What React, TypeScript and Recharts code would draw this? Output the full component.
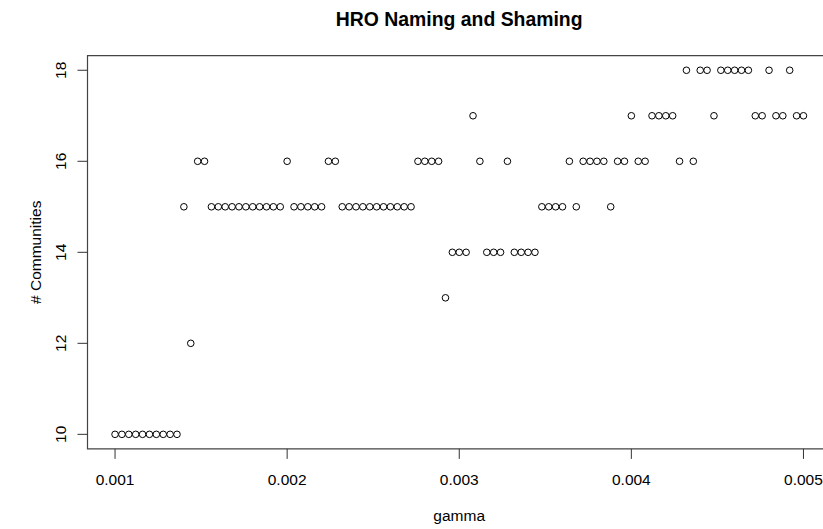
import React from "react";
import {
  ScatterChart,
  Scatter,
  XAxis,
  YAxis,
  ReferenceArea,
  Label,
  Customized,
} from "recharts";

// gamma values swept in the community detection run
const gamma = [
  0.001, 0.00104, 0.00108, 0.00112, 0.00116, 0.0012, 0.00124, 0.00128, 0.00132, 0.00136,
  0.0014, 0.00144, 0.00148, 0.00152, 0.00156, 0.0016, 0.00164, 0.00168, 0.00172, 0.00176,
  0.0018, 0.00184, 0.00188, 0.00192, 0.00196, 0.002, 0.00204, 0.00208, 0.00212, 0.00216,
  0.0022, 0.00224, 0.00228, 0.00232, 0.00236, 0.0024, 0.00244, 0.00248, 0.00252, 0.00256,
  0.0026, 0.00264, 0.00268, 0.00272, 0.00276, 0.0028, 0.00284, 0.00288, 0.00292, 0.00296,
  0.003, 0.00304, 0.00308, 0.00312, 0.00316, 0.0032, 0.00324, 0.00328, 0.00332, 0.00336,
  0.0034, 0.00344, 0.00348, 0.00352, 0.00356, 0.0036, 0.00364, 0.00368, 0.00372, 0.00376,
  0.0038, 0.00384, 0.00388, 0.00392, 0.00396, 0.004, 0.00404, 0.00408, 0.00412, 0.00416,
  0.0042, 0.00424, 0.00428, 0.00432, 0.00436, 0.0044, 0.00444, 0.00448, 0.00452, 0.00456,
  0.0046, 0.00464, 0.00468, 0.00472, 0.00476, 0.0048, 0.00484, 0.00488, 0.00492, 0.00496,
  0.005,
];

// number of communities found at each gamma
const communities = [
  10, 10, 10, 10, 10, 10, 10, 10, 10, 10,
  15, 12, 16, 16, 15, 15, 15, 15, 15, 15,
  15, 15, 15, 15, 15, 16, 15, 15, 15, 15,
  15, 16, 16, 15, 15, 15, 15, 15, 15, 15,
  15, 15, 15, 15, 16, 16, 16, 16, 13, 14,
  14, 14, 17, 16, 14, 14, 14, 16, 14, 14,
  14, 14, 15, 15, 15, 15, 16, 15, 16, 16,
  16, 16, 15, 16, 16, 17, 16, 16, 17, 17,
  17, 17, 16, 18, 16, 18, 18, 17, 18, 18,
  18, 18, 18, 17, 17, 18, 17, 17, 18, 17,
  17,
];

const xTicks = [0.001, 0.002, 0.003, 0.004, 0.005];
const yTicks = [10, 12, 14, 16, 18];

const xDomain = [0.00084, 0.00516];
const yDomain = [9.68, 18.32];

const points = gamma.map((g, i) => ({ gamma: g, communities: communities[i] }));

const FONT = "'Liberation Sans', Arial, Helvetica, sans-serif";
const PLOT_CENTER_X = 459.2;
const TEXT_SIZE = 15.5;

const OpenCircle = (props: any) => (
  <circle cx={props.cx} cy={props.cy} r={3.3} fill="none" stroke="#000" strokeWidth={1} />
);

const YTick = (props: any) => {
  const { y, payload } = props;
  return (
    <text
      transform={`translate(65.5,${y}) rotate(-90)`}
      textAnchor="middle"
      fontFamily={FONT}
      fontSize={TEXT_SIZE}
      fill="#000"
    >
      {payload.value}
    </text>
  );
};

const XTick = (props: any) => {
  const { x, payload } = props;
  return (
    <text x={x} y={485} textAnchor="middle" fontFamily={FONT} fontSize={TEXT_SIZE} fill="#000">
      {payload.value.toFixed(3)}
    </text>
  );
};

const Title = () => (
  <text
    x={PLOT_CENTER_X}
    y={26}
    textAnchor="middle"
    fontFamily={FONT}
    fontSize={19.4}
    fontWeight="bold"
    fill="#000"
  >
    HRO Naming and Shaming
  </text>
);

export default function App() {
  return (
    <div
      style={{
        position: "absolute",
        left: 0,
        top: 0,
        width: 823,
        height: 529,
        overflow: "hidden",
        background: "#fff",
      }}
    >
      <ScatterChart
        width={831}
        height={529}
        margin={{ top: 55.7, right: 0, bottom: 40.1, left: 27.5 }}
      >
        <XAxis
          type="number"
          dataKey="gamma"
          domain={xDomain}
          ticks={xTicks}
          allowDataOverflow
          axisLine={false}
          tickSize={10}
          tickLine={{ stroke: "#333", strokeWidth: 1 }}
          tick={<XTick />}
          height={40}
          label={
            <Label
              content={() => (
                <text
                  x={PLOT_CENTER_X}
                  y={521}
                  textAnchor="middle"
                  fontFamily={FONT}
                  fontSize={TEXT_SIZE}
                  fill="#000"
                >
                  gamma
                </text>
              )}
            />
          }
        />
        <YAxis
          type="number"
          dataKey="communities"
          domain={yDomain}
          ticks={yTicks}
          allowDataOverflow
          axisLine={false}
          tickSize={10}
          tickLine={{ stroke: "#333", strokeWidth: 1 }}
          tick={<YTick />}
          width={60}
          label={
            <Label
              content={() => (
                <text
                  transform="translate(41,252.3) rotate(-90)"
                  textAnchor="middle"
                  fontFamily={FONT}
                  fontSize={TEXT_SIZE}
                  fill="#000"
                >
                  # Communities
                </text>
              )}
            />
          }
        />
        <ReferenceArea
          x1={xDomain[0]}
          x2={xDomain[1]}
          y1={yDomain[0]}
          y2={yDomain[1]}
          fill="none"
          fillOpacity={0}
          stroke="#444"
          strokeWidth={1.2}
          ifOverflow="visible"
        />
        <Scatter
          data={points}
          shape={<OpenCircle />}
          isAnimationActive={false}
        />
        <Customized component={Title} />
      </ScatterChart>
    </div>
  );
}
